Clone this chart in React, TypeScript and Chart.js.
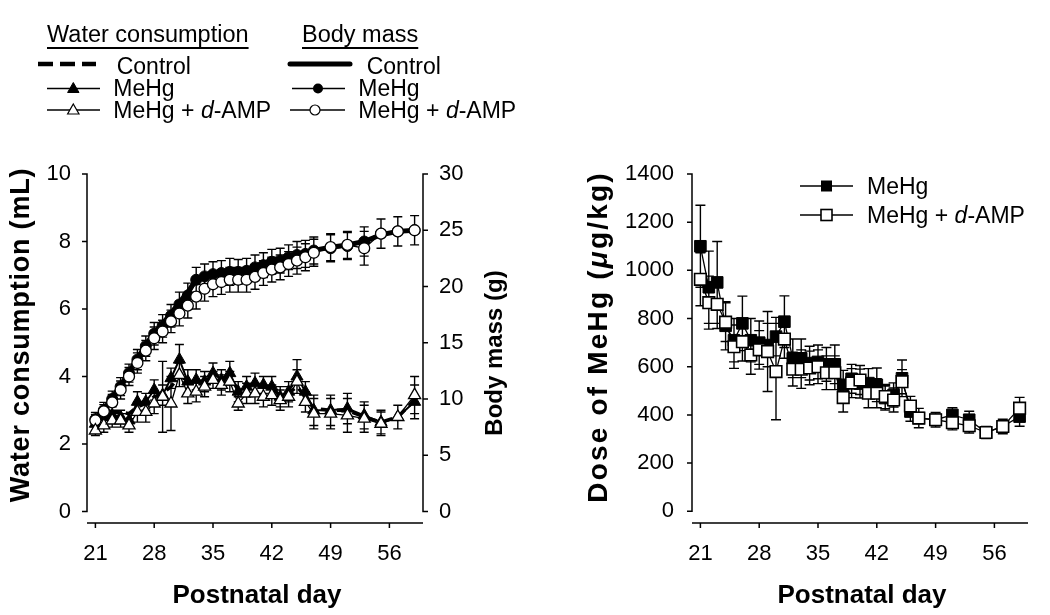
import React, { useEffect, useRef } from "react";
import { Chart, registerables } from "chart.js";

Chart.register(...registerables);

const FONT = "'Liberation Sans', Arial, Helvetica, sans-serif";

// ---------------- data ----------------
const days = [21, 22, 23, 24, 25, 26, 27, 28, 29, 30, 31, 32, 33, 34, 35, 36, 37, 38, 39, 40, 41, 42, 43, 44, 45, 46, 47, 49, 51, 53, 55, 57, 59];

const xTicks = [21, 28, 35, 42, 49, 56];
const waterTicks = [0, 2, 4, 6, 8, 10];
const massTicks = [0, 5, 10, 15, 20, 25, 30];
const doseTicks = [0, 200, 400, 600, 800, 1000, 1200, 1400];

const waterControl = [2.75, 2.9, 2.95, 2.95, 2.9, 3.1, 3.2, 3.4, 3.5, 3.7, 4.0, 3.9, 3.85, 3.85, 4.0, 3.9, 4.0, 3.6, 3.7, 3.8, 3.7, 3.7, 3.4, 3.5, 3.7, 3.4, 3.05, 3.0, 3.0, 2.8, 2.65, 2.8, 3.3];
const waterMeHg = [2.6, 2.8, 2.85, 2.8, 2.7, 3.25, 3.25, 3.6, 3.45, 3.95, 4.5, 3.85, 3.9, 3.85, 4.1, 3.9, 4.1, 3.55, 3.7, 3.8, 3.75, 3.7, 3.4, 3.55, 4.0, 3.55, 3.0, 3.0, 3.05, 2.85, 2.65, 2.8, 3.25];
const waterMeHgErr = [0.2, 0.25, 0.25, 0.2, 0.2, 0.3, 0.25, 0.3, 0.3, 0.3, 0.45, 0.35, 0.3, 0.3, 0.3, 0.3, 0.35, 0.3, 0.3, 0.3, 0.25, 0.3, 0.3, 0.3, 0.5, 0.3, 0.45, 0.45, 0.45, 0.4, 0.35, 0.35, 0.5];
const waterDamp = [2.4, 2.55, 2.7, 2.7, 2.55, 2.95, 2.95, 3.2, 3.4, 3.2, 4.05, 3.5, 3.55, 3.7, 3.9, 3.75, 3.85, 3.2, 3.5, 3.5, 3.4, 3.45, 3.3, 3.4, 3.85, 3.25, 2.9, 2.9, 2.85, 2.75, 2.6, 2.8, 3.45];
const waterDampErr = [0.15, 0.2, 0.2, 0.2, 0.2, 0.3, 0.3, 0.3, 1.05, 0.8, 0.35, 0.3, 0.3, 0.3, 0.25, 0.3, 0.3, 0.2, 0.3, 0.3, 0.3, 0.3, 0.3, 0.3, 0.35, 0.3, 0.45, 0.45, 0.5, 0.4, 0.35, 0.35, 0.55];

const massControl = [8.3, 9.1, 10.1, 11.2, 12.4, 13.6, 14.8, 15.9, 16.7, 17.6, 18.6, 19.5, 20.6, 21.0, 21.2, 21.3, 21.4, 21.4, 21.5, 21.7, 21.9, 22.2, 22.4, 22.6, 22.8, 23.0, 23.2, 23.5, 23.7, 24.0, 24.6, 24.9, 25.0];
const massMeHg = [8.2, 9.0, 10.0, 11.1, 12.3, 13.5, 14.7, 15.8, 16.5, 17.4, 18.4, 19.2, 20.6, 20.9, 21.1, 21.2, 21.3, 21.3, 21.4, 21.7, 21.9, 22.2, 22.3, 22.6, 22.8, 22.9, 23.2, 23.4, 23.6, 24.0, 24.7, 24.9, 25.0];
const massMeHgErr = [0.6, 0.7, 0.7, 0.8, 0.8, 0.9, 0.9, 1.0, 1.0, 1.0, 1.1, 1.1, 1.1, 1.1, 1.1, 1.1, 1.2, 1.1, 1.1, 1.1, 1.1, 1.1, 1.1, 1.1, 1.2, 1.2, 1.2, 1.2, 1.2, 1.3, 1.3, 1.3, 1.3];
const massDamp = [8.1, 8.9, 9.7, 10.8, 12.0, 13.2, 14.3, 15.4, 16.0, 16.9, 17.6, 18.3, 19.1, 19.8, 20.2, 20.4, 20.6, 20.6, 20.6, 20.85, 21.2, 21.5, 21.7, 22.0, 22.3, 22.6, 23.0, 23.5, 23.7, 23.4, 24.7, 24.9, 25.0];
const massDampErr = [0.5, 0.6, 0.7, 0.8, 0.8, 0.9, 0.9, 1.0, 1.0, 1.0, 1.1, 1.1, 1.1, 1.1, 1.1, 1.1, 1.1, 1.1, 1.1, 1.1, 1.1, 1.1, 1.1, 1.1, 1.2, 1.2, 1.2, 1.2, 1.2, 1.5, 1.3, 1.3, 1.3];

const doseMeHg = [1100, 930, 950, 770, 710, 780, 710, 700, 690, 725, 787, 635, 635, 615, 620, 610, 610, 525, 550, 530, 532, 525, 470, 483, 552, 414, 387, 380, 400, 380, 327, 352, 393];
const doseMeHgErr = [170, 150, 170, 100, 90, 113, 90, 90, 90, 80, 107, 80, 80, 70, 70, 70, 80, 60, 60, 60, 60, 70, 50, 50, 76, 40, 40, 30, 30, 35, 25, 30, 40];
const doseDamp = [963, 866, 859, 785, 683, 704, 649, 670, 663, 580, 715, 590, 590, 595, 600, 575, 575, 472, 532, 545, 490, 490, 476, 462, 538, 437, 387, 380, 368, 355, 327, 352, 428];
const doseDampErr = [110, 110, 100, 80, 90, 80, 80, 80, 166, 200, 80, 70, 80, 70, 70, 70, 70, 60, 60, 60, 60, 60, 50, 50, 50, 40, 40, 30, 30, 30, 25, 30, 45];

// ---------------- helpers ----------------
const pts = (vals: number[]) => days.map((d, i) => ({ x: d, y: vals[i] }));

type ErrSpec = { ds: number; err: number[]; cap: number };
type AxisSpec = { id: string; side: "left" | "right"; ticks: number[] };

function sigmaPlugin(axes: AxisSpec[], xTickVals: number[], errs: ErrSpec[]) {
  return {
    id: "sigma",
    beforeDatasetsDraw(chart: any) {
      const ctx = chart.ctx;
      const area = chart.chartArea;
      ctx.save();
      ctx.strokeStyle = "#000";
      ctx.lineWidth = 1.4;
      ctx.beginPath();
      for (const e of errs) {
        const meta = chart.getDatasetMeta(e.ds);
        const ys = chart.scales[meta.yAxisID];
        const xs = chart.scales[meta.xAxisID];
        const data = chart.data.datasets[e.ds].data as any[];
        data.forEach((p, i) => {
          const px = xs.getPixelForValue(p.x);
          const top = ys.getPixelForValue(p.y + e.err[i]);
          const bot = ys.getPixelForValue(p.y - e.err[i]);
          ctx.moveTo(px, top);
          ctx.lineTo(px, bot);
          ctx.moveTo(px - e.cap, top);
          ctx.lineTo(px + e.cap, top);
          ctx.moveTo(px - e.cap, bot);
          ctx.lineTo(px + e.cap, bot);
        });
      }
      ctx.stroke();

      // axes (offset SigmaPlot style)
      ctx.lineWidth = 1.5;
      ctx.beginPath();
      const xs = chart.scales.x;
      ctx.moveTo(area.left, area.bottom);
      ctx.lineTo(area.right, area.bottom);
      xTickVals.forEach((v) => {
        const p = xs.getPixelForValue(v);
        ctx.moveTo(p, area.bottom);
        ctx.lineTo(p, area.bottom + 5);
      });
      for (const a of axes) {
        const s = chart.scales[a.id];
        const x0 = a.side === "left" ? area.left : area.right;
        const dir = a.side === "left" ? -1 : 1;
        const top = s.getPixelForValue(a.ticks[a.ticks.length - 1]);
        const bot = s.getPixelForValue(a.ticks[0]);
        ctx.moveTo(x0, top - 0.75);
        ctx.lineTo(x0, bot + 0.75);
        a.ticks.forEach((v) => {
          const p = s.getPixelForValue(v);
          ctx.moveTo(x0, p);
          ctx.lineTo(x0 + dir * 5, p);
        });
      }
      ctx.stroke();
      ctx.restore();
    },
  };
}

const tickFont = { family: FONT, size: 22 };

function yScale(pos: "left" | "right", min: number, max: number, ticks: number[], width: number, padding: number) {
  return {
    type: "linear",
    position: pos,
    min,
    max,
    bounds: "data",
    grid: { display: false, drawTicks: false },
    border: { display: false },
    ticks: { font: tickFont, color: "#000", padding, callback: (v: any) => String(v) },
    afterBuildTicks: (s: any) => {
      s.ticks = ticks.map((v) => ({ value: v }));
    },
    afterFit: (s: any) => {
      s.width = width;
    },
  };
}

function xScale() {
  return {
    type: "linear",
    position: "bottom",
    min: 20,
    max: 60,
    bounds: "data",
    grid: { display: false, drawTicks: false },
    border: { display: false },
    ticks: { font: tickFont, color: "#000", padding: 18, callback: (v: any) => String(v) },
    afterBuildTicks: (s: any) => {
      s.ticks = xTicks.map((v) => ({ value: v }));
    },
    afterFit: (s: any) => {
      s.height = 92;
    },
  };
}

const baseOpts = {
  animation: false,
  responsive: false,
  maintainAspectRatio: false,
  events: [],
  plugins: { legend: { display: false }, tooltip: { enabled: false }, title: { display: false } },
};

function leftConfig(): any {
  return {
    type: "line",
    data: {
      datasets: [
        { data: pts(waterDamp), yAxisID: "y", borderColor: "#000", borderWidth: 1.3, pointStyle: "triangle", pointRadius: 7, pointBackgroundColor: "#fff", pointBorderColor: "#000", pointBorderWidth: 1.3 },
        { data: pts(massDamp), yAxisID: "y1", borderColor: "#000", borderWidth: 1.3, pointStyle: "circle", pointRadius: 5.5, pointBackgroundColor: "#fff", pointBorderColor: "#000", pointBorderWidth: 1.3 },
        { data: pts(waterMeHg), yAxisID: "y", borderColor: "#000", borderWidth: 2, pointStyle: "triangle", pointRadius: 7, pointBackgroundColor: "#000", pointBorderColor: "#000", pointBorderWidth: 1 },
        { data: pts(massMeHg), yAxisID: "y1", borderColor: "#000", borderWidth: 3, pointStyle: "circle", pointRadius: 5.5, pointBackgroundColor: "#000", pointBorderColor: "#000", pointBorderWidth: 1 },
        { data: pts(waterControl), yAxisID: "y", borderColor: "#000", borderWidth: 3.5, borderDash: [10, 6], pointRadius: 0 },
        { data: pts(massControl), yAxisID: "y1", borderColor: "#000", borderWidth: 5, pointRadius: 0, borderCapStyle: "round", borderJoinStyle: "round" },
      ],
    },
    options: {
      ...baseOpts,
      layout: { padding: { top: 174, left: 0, right: 0, bottom: 0 } },
      scales: {
        x: xScale(),
        y: yScale("left", -0.34, 10, waterTicks, 87, 16),
        y1: yScale("right", -1.02, 30, massTicks, 117, 16),
      },
    },
    plugins: [
      sigmaPlugin(
        [
          { id: "y", side: "left", ticks: waterTicks },
          { id: "y1", side: "right", ticks: massTicks },
        ],
        xTicks,
        [
          { ds: 0, err: waterDampErr, cap: 4.5 },
          { ds: 1, err: massDampErr, cap: 4.5 },
          { ds: 2, err: waterMeHgErr, cap: 4.5 },
          { ds: 3, err: massMeHgErr, cap: 4.5 },
        ]
      ),
    ],
  };
}

function rightConfig(): any {
  return {
    type: "line",
    data: {
      datasets: [
        { data: pts(doseDamp), yAxisID: "y", borderColor: "#000", borderWidth: 1.3, pointStyle: "rect", pointRadius: 8.2, pointBackgroundColor: "#fff", pointBorderColor: "#000", pointBorderWidth: 1.6 },
        { data: pts(doseMeHg), yAxisID: "y", borderColor: "#000", borderWidth: 1.3, pointStyle: "rect", pointRadius: 8.2, pointBackgroundColor: "#000", pointBorderColor: "#000", pointBorderWidth: 1 },
      ],
    },
    options: {
      ...baseOpts,
      layout: { padding: { top: 174, left: 0, right: 22, bottom: 0 } },
      scales: {
        x: xScale(),
        y: yScale("left", -48.6, 1400, doseTicks, 152, 18),
      },
    },
    plugins: [
      sigmaPlugin([{ id: "y", side: "left", ticks: doseTicks }], xTicks, [
        { ds: 0, err: doseDampErr, cap: 5 },
        { ds: 1, err: doseMeHgErr, cap: 5 },
      ]),
    ],
  };
}

function ChartCanvas({ left, width, make }: { left: number; width: number; make: () => any }) {
  const ref = useRef<HTMLCanvasElement>(null);
  useEffect(() => {
    const chart = new Chart(ref.current as HTMLCanvasElement, make());
    return () => chart.destroy();
  }, []);
  return (
    <canvas
      ref={ref}
      width={width}
      height={615}
      style={{ position: "absolute", left, top: 0, width, height: 615 }}
    />
  );
}

function Label({ x, cy, size = 23, bold = false, underline = false, center = false, children }: any) {
  return (
    <div
      style={{
        position: "absolute",
        left: x,
        top: cy - 0.49 * size,
        fontSize: size,
        lineHeight: `${size}px`,
        fontWeight: bold ? "bold" : "normal",
        whiteSpace: "nowrap",
        textDecoration: underline ? "underline" : "none",
        textUnderlineOffset: "5px",
        textDecorationThickness: "1.5px",
        transform: center ? "translateX(-50%)" : undefined,
        color: "#000",
      }}
    >
      {children}
    </div>
  );
}

function VLabel({ cx, cy, size = 26, spacing = 0, children }: any) {
  return (
    <div
      style={{
        position: "absolute",
        left: cx,
        top: cy,
        transform: "translate(-50%, -50%) rotate(-90deg)",
        fontSize: size,
        lineHeight: `${size}px`,
        letterSpacing: `${spacing}px`,
        fontWeight: "bold",
        whiteSpace: "nowrap",
        color: "#000",
      }}
    >
      {children}
    </div>
  );
}

export default function App() {
  return (
    <div
      style={{
        position: "absolute",
        left: 0,
        top: 0,
        width: 1050,
        height: 615,
        background: "#fff",
        fontFamily: FONT,
        overflow: "hidden",
      }}
    >
      <ChartCanvas left={0} width={540} make={leftConfig} />
      <ChartCanvas left={540} width={510} make={rightConfig} />

      <svg width={1050} height={615} style={{ position: "absolute", left: 0, top: 0, pointerEvents: "none" }}>
        {/* left legend */}
        <line x1={38} y1={64} x2={96} y2={64} stroke="#000" strokeWidth={4.5} strokeDasharray="15 7" />
        <line x1={290} y1={64} x2={350} y2={64} stroke="#000" strokeWidth={5} strokeLinecap="round" />
        <line x1={47} y1={88.5} x2={100} y2={88.5} stroke="#000" strokeWidth={1.3} />
        <polygon points="73.3,82.5 79,92.5 67.6,92.5" fill="#000" stroke="#000" strokeWidth={1} />
        <line x1={292} y1={88.5} x2={345} y2={88.5} stroke="#000" strokeWidth={1.3} />
        <circle cx={318} cy={88.5} r={5} fill="#000" />
        <line x1={47} y1={110} x2={100} y2={110} stroke="#000" strokeWidth={1.3} />
        <polygon points="73.3,104 79,114 67.6,114" fill="#fff" stroke="#000" strokeWidth={1.2} />
        <line x1={290} y1={110} x2={345} y2={110} stroke="#000" strokeWidth={1.3} />
        <circle cx={315} cy={110} r={5} fill="#fff" stroke="#000" strokeWidth={1.2} />
        {/* right legend */}
        <line x1={800} y1={186} x2={853} y2={186} stroke="#000" strokeWidth={1.3} />
        <rect x={821} y={180.5} width={11} height={11} fill="#000" />
        <line x1={800} y1={215} x2={853} y2={215} stroke="#000" strokeWidth={1.3} />
        <rect x={821} y={209.5} width={11} height={11} fill="#fff" stroke="#000" strokeWidth={1.6} />
      </svg>

      <Label x={47} cy={35} size={23.5} underline>Water consumption</Label>
      <Label x={302} cy={35} size={23.5} underline>Body mass</Label>
      <Label x={116.7} cy={66}>Control</Label>
      <Label x={366.7} cy={66}>Control</Label>
      <Label x={113.3} cy={88}>MeHg</Label>
      <Label x={358.3} cy={88}>MeHg</Label>
      <Label x={113.3} cy={110}>MeHg + <i>d</i>-AMP</Label>
      <Label x={358.3} cy={110}>MeHg + <i>d</i>-AMP</Label>

      <Label x={867} cy={186}>MeHg</Label>
      <Label x={867} cy={215}>MeHg + <i>d</i>-AMP</Label>

      <VLabel cx={20} cy={335} size={27} spacing={0.8}>Water consumption (mL)</VLabel>
      <VLabel cx={494} cy={353} size={24}>Body mass (g)</VLabel>
      <VLabel cx={598} cy={337} size={28} spacing={2.2}>Dose of MeHg (<i>μ</i>g/kg)</VLabel>

      <Label x={257} cy={594} size={26} bold center>Postnatal day</Label>
      <Label x={862} cy={594} size={26} bold center>Postnatal day</Label>
    </div>
  );
}
